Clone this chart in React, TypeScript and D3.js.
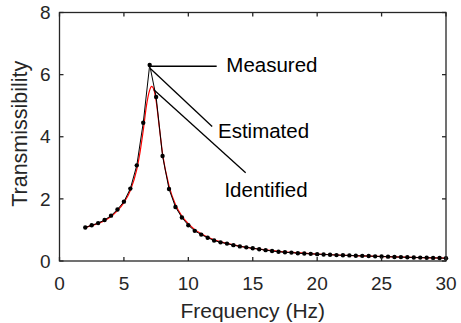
import { useEffect, useRef } from 'react';
import * as d3 from 'd3';

// measured transmissibility, sampled every 0.5 Hz from 2 to 30 Hz
const measuredFreq = d3.range(2, 30.001, 0.5);
const measuredT = [
    1.08, 1.15, 1.22, 1.32, 1.46, 1.66, 1.91, 2.33, 3.08, 4.45, 6.31,
    5.28, 3.38, 2.32, 1.74, 1.40, 1.15, 0.97, 0.85, 0.75, 0.66, 0.60,
    0.56, 0.51, 0.47, 0.44, 0.41, 0.38, 0.35, 0.32, 0.30, 0.28, 0.27,
    0.25, 0.24, 0.23, 0.22, 0.21, 0.20, 0.19, 0.185, 0.18, 0.17, 0.165,
    0.16, 0.15, 0.145, 0.14, 0.13, 0.125, 0.12, 0.115, 0.11, 0.105, 0.10,
    0.095, 0.09,
];

// identified model response (red)
const identFreq = [
    2, 2.5, 3, 3.5, 4, 4.5, 5, 5.5, 6, 6.25, 6.5, 6.75, 7, 7.15, 7.3, 7.5,
    7.75, 8, 8.5, 9, 9.5, 10, 10.5, 11, 11.5, 12, 13, 14, 15, 16, 17, 18,
    20, 22, 24, 26, 28, 30,
];
const identT = [
    1.08, 1.14, 1.21, 1.30, 1.43, 1.62, 1.88, 2.27, 2.95, 3.5, 4.2, 5.0,
    5.5, 5.62, 5.55, 5.15, 4.3, 3.45, 2.42, 1.82, 1.45, 1.2, 1.01, 0.88,
    0.77, 0.68, 0.57, 0.48, 0.41, 0.36, 0.31, 0.275, 0.225, 0.185, 0.16,
    0.135, 0.11, 0.09,
];

const xTicks = [0, 5, 10, 15, 20, 25, 30];
const yTicks = [0, 2, 4, 6, 8];

// annotation leaders in data units: [from x, from y, to x, to y, text x, text y]
const notes: { label: string; pts: number[] }[] = [
    { label: 'Measured', pts: [7.0, 6.27, 12.2, 6.27, 12.95, 6.3] },
    { label: 'Estimated', pts: [7.05, 6.2, 11.85, 4.33, 12.3, 4.2] },
    { label: 'Identified', pts: [7.3, 5.52, 14.45, 2.84, 12.8, 2.3] },
];

export default function App() {
    const svgRef = useRef<SVGSVGElement>(null);
    const width = 461;
    const height = 323;

    useEffect(() => {
        if (!svgRef.current) return;
        const root = d3.select(svgRef.current);
        root.selectAll('*').remove();

        const margin = { top: 12.5, right: 15, bottom: 62, left: 59.5 };
        const innerWidth = width - margin.left - margin.right;
        const innerHeight = height - margin.top - margin.bottom;
        const ink = '#262626';
        const font = '"Liberation Sans", Arial, sans-serif';

        const svg = root.append('g')
            .attr('transform', `translate(${margin.left}, ${margin.top})`);

        const xScale = d3.scaleLinear().domain([0, 30]).range([0, innerWidth]);
        const yScale = d3.scaleLinear().domain([0, 8]).range([innerHeight, 0]);

        // Lines
        const line = d3.line<[number, number]>()
            .x(d => xScale(d[0]))
            .y(d => yScale(d[1]));

        const identData = identFreq.map((f, i) => [f, identT[i]] as [number, number]);
        const measData = measuredFreq.map((f, i) => [f, measuredT[i]] as [number, number]);

        svg.append('path')
            .datum(identData)
            .attr('fill', 'none')
            .attr('stroke', '#ff0000')
            .attr('stroke-width', 1.2)
            .attr('d', line.curve(d3.curveMonotoneX));

        svg.append('path')
            .datum(measData)
            .attr('fill', 'none')
            .attr('stroke', '#000')
            .attr('stroke-width', 1)
            .attr('d', line.curve(d3.curveLinear));

        svg.selectAll('.dot')
            .data(measData)
            .enter()
            .append('circle')
            .attr('cx', d => xScale(d[0]))
            .attr('cy', d => yScale(d[1]))
            .attr('r', 2.2)
            .attr('fill', '#000');

        // Annotations
        notes.forEach(n => {
            const [x1, y1, x2, y2, tx, ty] = n.pts;
            svg.append('line')
                .attr('x1', xScale(x1)).attr('y1', yScale(y1))
                .attr('x2', xScale(x2)).attr('y2', yScale(y2))
                .attr('stroke', '#000')
                .attr('stroke-width', 1.3);
            svg.append('text')
                .attr('x', xScale(tx))
                .attr('y', yScale(ty))
                .attr('dy', '0.35em')
                .attr('font-family', font)
                .attr('font-size', 20.5)
                .attr('fill', '#000')
                .text(n.label);
        });

        // Box with inward ticks
        const axisG = svg.append('g').attr('stroke', ink).attr('stroke-width', 1.3);
        axisG.append('rect')
            .attr('width', innerWidth)
            .attr('height', innerHeight)
            .attr('fill', 'none');

        xTicks.forEach(t => {
            axisG.append('line')
                .attr('x1', xScale(t)).attr('x2', xScale(t))
                .attr('y1', innerHeight).attr('y2', innerHeight - 4);
            axisG.append('line')
                .attr('x1', xScale(t)).attr('x2', xScale(t))
                .attr('y1', 0).attr('y2', 4);
        });
        yTicks.forEach(t => {
            axisG.append('line')
                .attr('x1', 0).attr('x2', 4)
                .attr('y1', yScale(t)).attr('y2', yScale(t));
            axisG.append('line')
                .attr('x1', innerWidth).attr('x2', innerWidth - 4)
                .attr('y1', yScale(t)).attr('y2', yScale(t));
        });

        // Tick labels
        svg.append('g')
            .selectAll('text')
            .data(xTicks)
            .enter()
            .append('text')
            .attr('x', d => xScale(d))
            .attr('y', innerHeight + 22)
            .attr('dy', '0.35em')
            .attr('text-anchor', 'middle')
            .attr('font-family', font)
            .attr('font-size', 19)
            .attr('fill', ink)
            .text(d => d);

        svg.append('g')
            .selectAll('text')
            .data(yTicks)
            .enter()
            .append('text')
            .attr('x', -9)
            .attr('y', d => yScale(d))
            .attr('dy', '0.35em')
            .attr('text-anchor', 'end')
            .attr('font-family', font)
            .attr('font-size', 19)
            .attr('fill', ink)
            .text(d => d);

        // Axis titles
        svg.append('text')
            .attr('x', innerWidth / 2)
            .attr('y', innerHeight + 50)
            .attr('dy', '0.35em')
            .attr('text-anchor', 'middle')
            .attr('font-family', font)
            .attr('font-size', 21)
            .attr('fill', ink)
            .text('Frequency (Hz)');

        svg.append('text')
            .attr('transform', `translate(${-40}, ${innerHeight / 2 - 3}) rotate(-90)`)
            .attr('dy', '0.35em')
            .attr('text-anchor', 'middle')
            .attr('font-family', font)
            .attr('font-size', 21.5)
            .attr('fill', ink)
            .text('Transmissibility');
    }, []);

    return (
        <svg
            ref={svgRef}
            width={width}
            height={height}
            style={{ position: 'absolute', left: 0, top: 0, background: '#fff' }}
        />
    );
}
